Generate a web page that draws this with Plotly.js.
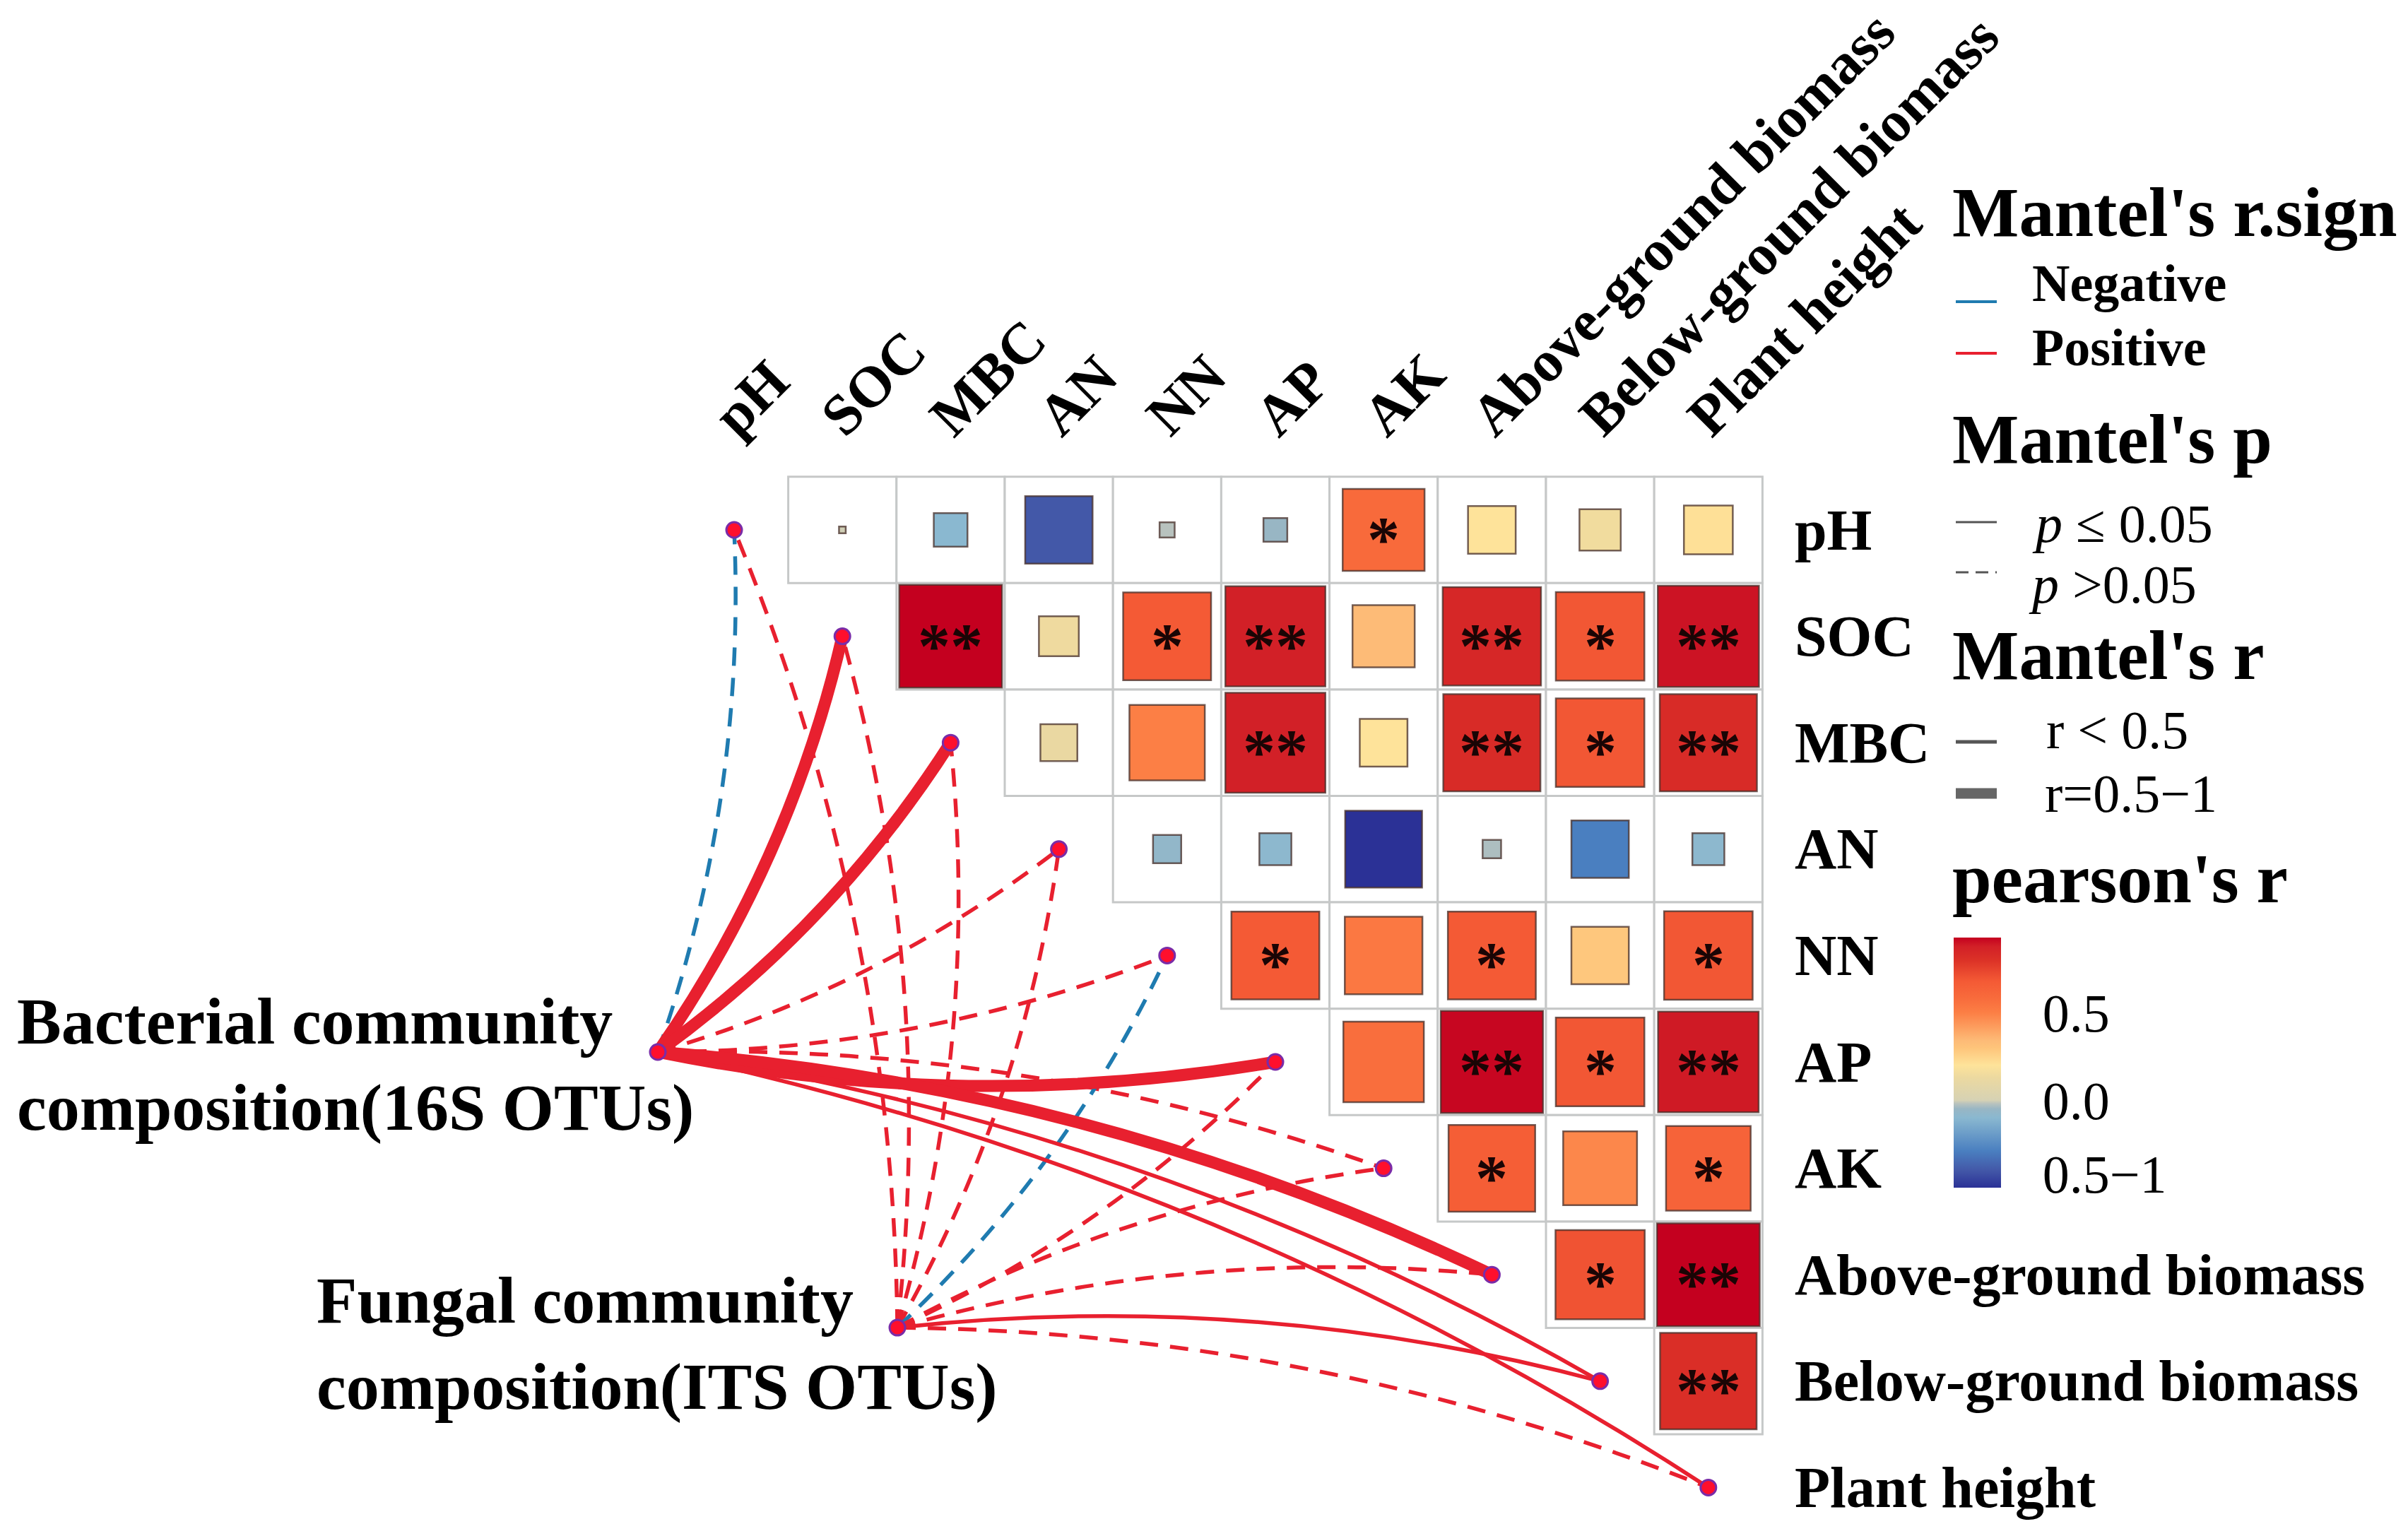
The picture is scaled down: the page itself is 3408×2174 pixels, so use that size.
<!DOCTYPE html>
<html>
<head>
<meta charset="utf-8">
<script src="https://cdn.plot.ly/plotly-3.0.1.min.js"></script>
<style>html,body{margin:0;padding:0;background:#fff;}</style>
</head>
<body>
<div id="chart" style="width:3408px;height:2174px;"></div>
<script>
// ---------------- DATA ----------------
const variables = ['pH','SOC','MBC','AN','NN','AP','AK','Above-ground biomass','Below-ground biomass','Plant height'];

// Pearson's r, upper triangle (row i, columns i+1..9)
const r_pH    = [-0.004, -0.10, -0.40, -0.02, -0.05, 0.59, 0.20, 0.15, 0.21];
const r_SOC   = [0.93, 0.14, 0.68, 0.88, 0.34, 0.85, 0.69, 0.90];
const r_MBC   = [0.12, 0.50, 0.88, 0.20, 0.83, 0.69, 0.83];
const r_AN    = [-0.07, -0.09, -0.52, -0.03, -0.29, -0.09];
const r_NN    = [0.68, 0.53, 0.68, 0.29, 0.69];
const r_AP    = [0.57, 0.92, 0.69, 0.89];
const r_AK    = [0.66, 0.48, 0.63];
const r_Above = [0.70, 0.93];
const r_Below = [0.82];
const pearsonRows = [r_pH, r_SOC, r_MBC, r_AN, r_NN, r_AP, r_AK, r_Above, r_Below];

// significance stars, same layout
const s_pH    = ['', '', '', '', '', '*', '', '', ''];
const s_SOC   = ['**', '', '*', '**', '', '**', '*', '**'];
const s_MBC   = ['', '', '**', '', '**', '*', '**'];
const s_AN    = ['', '', '', '', '', ''];
const s_NN    = ['*', '', '*', '', '*'];
const s_AP    = ['', '**', '*', '**'];
const s_AK    = ['*', '', '*'];
const s_Above = ['*', '**'];
const s_Below = ['**'];
const starRows = [s_pH, s_SOC, s_MBC, s_AN, s_NN, s_AP, s_AK, s_Above, s_Below];

// Mantel test classes (per target variable, same order as variables)
const sourceNames = ['Bacterial community<br>composition(16S OTUs)', 'Fungal community<br>composition(ITS OTUs)'];
const bac_sign = ['Negative','Positive','Positive','Positive','Positive','Positive','Positive','Positive','Positive','Positive'];
const bac_p    = ['>0.05','<=0.05','<=0.05','>0.05','>0.05','<=0.05','>0.05','<=0.05','<=0.05','<=0.05'];
const bac_r    = ['<0.5','0.5-1','0.5-1','<0.5','<0.5','0.5-1','<0.5','0.5-1','<0.5','<0.5'];
const fun_sign = ['Positive','Positive','Positive','Positive','Negative','Positive','Positive','Positive','Positive','Positive'];
const fun_p    = ['>0.05','>0.05','>0.05','>0.05','>0.05','>0.05','>0.05','>0.05','<=0.05','>0.05'];
const fun_r    = ['<0.5','<0.5','<0.5','<0.5','<0.5','<0.5','<0.5','<0.5','<0.5','<0.5'];

const colorbarTickVals = [0.5, 0.0, -0.42];
const colorbarTickText = ['0.5', '0.0', '0.5\u22121'];

// ---------------- LAYOUT CONSTANTS ----------------
const W = 3408, H = 2174;
const CX = 153.2, CY = 150.6, OX = 1039, OY = 750;   // px per unit, px of origin
const SRC_POS = [[-0.705, 4.907], [1.508, 7.497]];    // node positions of the two communities
const CMIN = -0.5, CMAX = 0.93;
const colorStops = [
  [-0.5,'#2b3196'], [-0.4,'#4358a8'], [-0.29,'#4a7fc0'], [-0.1,'#8ab8d0'],
  [-0.05,'#98b6c4'], [-0.02,'#b8c2be'], [0.0,'#d6d2b4'], [0.13,'#ecd9a0'],
  [0.2,'#fee39a'], [0.3,'#fec47a'], [0.34,'#fdbb77'], [0.5,'#fc7f45'],
  [0.58,'#f86c3c'], [0.68,'#f45a35'], [0.8,'#dc3227'], [0.88,'#d22027'], [0.93,'#c4001f']
];
const colorscale = colorStops.map(([v,c]) => [(v - CMIN)/(CMAX - CMIN), c]);
const SERIF = 'Liberation Serif, Times New Roman, serif';
const RED = '#e8202f', BLUE = '#1f7bb0';

const px = x => x / W;
const py = y => 1 - y / H;

// ---------------- BUILD ----------------
const shapes = [];
const annotations = [];

// grid cells
pearsonRows.forEach((row, i) => {
  row.forEach((v, k) => {
    const j = i + 1 + k;
    shapes.push({type:'rect', xref:'x', yref:'y', layer:'below',
      x0:j-0.5, x1:j+0.5, y0:i-0.5, y1:i+0.5,
      line:{color:'#c6c8c8', width:3}, fillcolor:'white'});
  });
});

// squares
const sqX = [], sqY = [], sqR = [], sqSize = [];
pearsonRows.forEach((row, i) => {
  row.forEach((v, k) => {
    const j = i + 1 + k;
    sqX.push(j); sqY.push(i); sqR.push(v);
    sqSize.push(Math.sqrt(Math.abs(v)) * CX * 0.985);
  });
});

// stars
starRows.forEach((row, i) => {
  row.forEach((s, k) => {
    if (!s) return;
    annotations.push({x:i+1+k, y:i, xref:'x', yref:'y', text:s, showarrow:false,
      font:{family:SERIF, size:92, color:'#1a0505', weight:'bold'}, yshift:-13});
  });
});

// mantel links (quadratic curves)
function link(src, tIdx, sign, p, r) {
  const [x0, y0] = src;
  const x1 = tIdx, y1 = tIdx;
  const dx = x1 - x0, dy = y1 - y0;
  const side = tIdx <= 5 ? 1 : -1;
  const k = 0.095;
  const cx = (x0 + x1)/2 + side * k * (-dy);
  const cy = (y0 + y1)/2 + side * k * dx;
  return {type:'path', xref:'x', yref:'y', layer:'below',
    path:`M ${x0},${y0} Q ${cx},${cy} ${x1},${y1}`,
    line:{color: sign === 'Negative' ? BLUE : RED,
          width: r === '0.5-1' ? 17 : 5.5,
          dash: p === '<=0.05' ? 'solid' : '26px,17px'}};
}
const linkShapes = [];
[[bac_sign, bac_p, bac_r, 0], [fun_sign, fun_p, fun_r, 1]].forEach(([sg, pp, rr, s]) => {
  variables.forEach((v, t) => linkShapes.push(link(SRC_POS[s], t, sg[t], pp[t], rr[t])));
});
// draw dashed first, then thin solid, then thick
linkShapes.sort((a,b) => {
  const rank = sh => (sh.line.dash !== 'solid' ? 0 : (sh.line.width > 10 ? 2 : 1));
  return rank(a) - rank(b);
});
shapes.push(...linkShapes);

// row labels (right) and column labels (top)
variables.forEach((v, i) => {
  annotations.push({x:9.5, y:i, xref:'x', yref:'y', xanchor:'left', yanchor:'middle',
    xshift:44, text:v, showarrow:false,
    font:{family:SERIF, size:82, color:'#000', weight:'bold'}});
  annotations.push({x:i, y:-0.5, xref:'x', yref:'y', xanchor:'left', yanchor:'bottom',
    xshift:-50, yshift:38, textangle:-45, text:v, showarrow:false,
    font:{family:SERIF, size:82, color:'#000', weight:'bold'}});
});

// source labels
annotations.push({x:px(22), y:py(1506), xref:'paper', yref:'paper', xanchor:'left', yanchor:'middle',
  align:'left', text:sourceNames[0], showarrow:false,
  font:{family:SERIF, size:94, color:'#000', weight:'bold'}});
annotations.push({x:px(446), y:py(1901), xref:'paper', yref:'paper', xanchor:'left', yanchor:'middle',
  align:'left', text:sourceNames[1], showarrow:false,
  font:{family:SERIF, size:94, color:'#000', weight:'bold'}});

// legend
function legText(x, y, text, size, bold) {
  annotations.push({x:px(x), y:py(y), xref:'paper', yref:'paper', xanchor:'left', yanchor:'middle',
    text:text, showarrow:false,
    font:{family:SERIF, size:size, color:'#000', weight: bold ? 'bold' : 'normal'}});
}
function legLine(y, color, width, dash) {
  shapes.push({type:'line', xref:'paper', yref:'paper', x0:px(2768), x1:px(2826), y0:py(y), y1:py(y),
    line:{color:color, width:width, dash:dash || 'solid'}});
}
legText(2761, 300, "Mantel's r.sign", 100, true);
legLine(427, BLUE, 4); legText(2874, 401, 'Negative', 74, true);
legLine(500, RED, 4);  legText(2874, 492, 'Positive', 74, true);
legText(2761, 621, "Mantel's p", 100, true);
legLine(739, '#555', 3); legText(2874, 741, '<i>p</i> \u2264 0.05', 76, false);
legLine(810, '#555', 3, '18px,10px'); legText(2869, 827, '<i>p</i> >0.05', 76, false);
legText(2761, 927, "Mantel's r", 100, true);
legLine(1050, '#555', 5); legText(2894, 1033, 'r < 0.5', 76, false);
legLine(1123, '#666', 15); legText(2892, 1123, 'r=0.5\u22121', 76, false);
legText(2761, 1243, "pearson's r", 100, true);

// white tick marks on colorbar
[0.5, 0.0].forEach(v => {
  const yy = 1327 + (CMAX - v)/(CMAX - CMIN) * 354;
  shapes.push({type:'line', xref:'paper', yref:'paper', x0:px(2765), x1:px(2779), y0:py(yy), y1:py(yy), line:{color:'white', width:3}});
  shapes.push({type:'line', xref:'paper', yref:'paper', x0:px(2818), x1:px(2832), y0:py(yy), y1:py(yy), line:{color:'white', width:3}});
});

const squaresTrace = {
  type:'scatter', mode:'markers', x:sqX, y:sqY, hoverinfo:'skip',
  marker:{symbol:'square', size:sqSize, color:sqR, colorscale:colorscale, cmin:CMIN, cmax:CMAX,
    opacity:1,
    line:{color:'rgba(70,45,40,0.75)', width:2.5},
    showscale:true,
    colorbar:{x:px(2765), xanchor:'left', xref:'paper', y:py(1504), yanchor:'middle', yref:'paper',
      len:354, lenmode:'pixels', thickness:67, thicknessmode:'pixels', outlinewidth:0,
      xpad:0, ypad:0, tickmode:'array', tickvals:colorbarTickVals, ticktext:colorbarTickText,
      ticks:'outside', ticklen:44, tickcolor:'rgba(0,0,0,0)',
      tickfont:{family:SERIF, size:76, color:'#000'}}}
};

const nodeX = variables.map((v,i) => i).concat([SRC_POS[0][0], SRC_POS[1][0]]);
const nodeY = variables.map((v,i) => i).concat([SRC_POS[0][1], SRC_POS[1][1]]);
const nodesTrace = {
  type:'scatter', mode:'markers', x:nodeX, y:nodeY, hoverinfo:'skip',
  marker:{symbol:'circle', size:22, color:'#ff0f2d', opacity:1, line:{color:'#7a2ca8', width:3}}
};

const layout = {
  width:W, height:H, margin:{l:0, r:0, t:0, b:0},
  paper_bgcolor:'white', plot_bgcolor:'white', showlegend:false,
  xaxis:{range:[-OX/CX, (W-OX)/CX], visible:false, fixedrange:true},
  yaxis:{range:[(H-OY)/CY, -OY/CY], visible:false, fixedrange:true},
  shapes:shapes, annotations:annotations
};

Plotly.newPlot('chart', [squaresTrace, nodesTrace], layout, {displayModeBar:false, staticPlot:true});
</script>
</body>
</html>
